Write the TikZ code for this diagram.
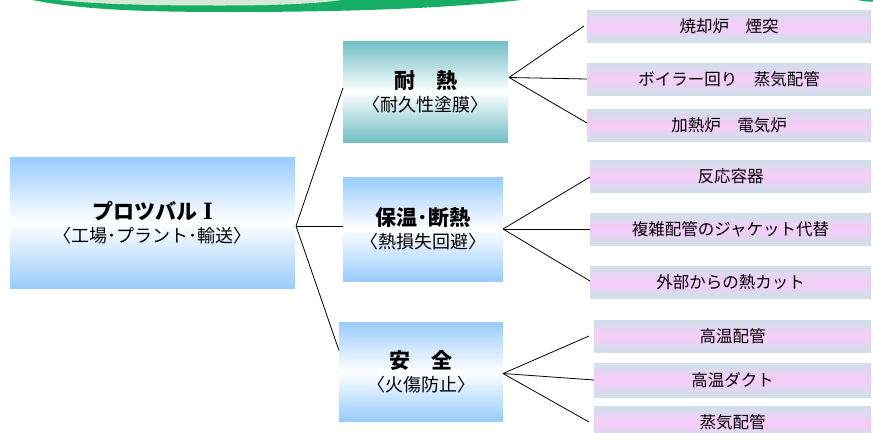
\documentclass[tikz,border=0pt]{standalone}
\usepackage{fontspec}
\setmainfont{Noto Sans CJK JP}
\newfontfamily\romanfont{Liberation Serif}
\definecolor{lblue}{RGB}{153,204,255}
\definecolor{teal1}{RGB}{112,190,196}
\definecolor{rgray}{RGB}{206,224,232}
\definecolor{rpink}{RGB}{248,204,250}
\definecolor{dgreen}{RGB}{21,174,100}
\definecolor{lgreen}{RGB}{212,232,212}
\newcommand\mytitle{\bfseries\fontsize{21}{22}\selectfont}
\newcommand\mysub{\mdseries\fontsize{18}{20}\selectfont}
\begin{document}
\begin{tikzpicture}[x=1pt,y=-1pt,
  boxbase/.style={inner sep=0pt, outer sep=0pt, anchor=north west, align=center},
  bluebox/.style={boxbase, top color=lblue, bottom color=lblue, middle color=white},
  tealbox/.style={boxbase, top color=teal1, bottom color=teal1, middle color=white},
  rbox/.style={boxbase, minimum height=32pt, top color=rgray, bottom color=rgray, middle color=rpink, font=\fontsize{16.5}{19}\selectfont},
  conn/.style={draw=black, line width=0.8pt}]
\useasboundingbox (0,0) rectangle (873,432);
% green swoosh at top
\fill[dgreen] (18,-3) .. controls (70,9) and (130,12) .. (230,12) .. controls (380,12) and (480,6) .. (545,-3) -- cycle;
\fill[lgreen] (35,-3) .. controls (80,4) and (140,5.5) .. (220,5.5) .. controls (290,5.5) and (330,3) .. (360,-3) -- cycle;
\fill[dgreen] (850,-3) .. controls (858,1) and (866,2) .. (876,1.5) -- (876,-3) -- cycle;
% main boxes
\node[bluebox, minimum width=285pt, minimum height=131pt] (m) at (10,157) {\mytitle プロツバル\hspace{6pt}{\romanfont\bfseries\fontsize{25}{22}\selectfont I}\\[5pt]\mysub 〈工場･プラント･輸送〉};
\node[tealbox, minimum width=165pt, minimum height=101pt] (b1) at (343,41) {\mytitle 耐　熱\\[5pt]\mysub 〈耐久性塗膜〉};
\node[bluebox, minimum width=160pt, minimum height=104pt] (b2) at (343,177) {\mytitle 保温･断熱\\[5pt]\mysub 〈熱損失回避〉};
\node[bluebox, minimum width=164pt, minimum height=99pt] (b3) at (339,322) {\mytitle 安　全\\[5pt]\mysub 〈火傷防止〉};
% right boxes
\node[rbox, minimum width=284pt] (r11) at (587,10) {焼却炉　煙突};
\node[rbox, minimum width=284pt] (r12) at (587,63) {ボイラー回り　蒸気配管};
\node[rbox, minimum width=284pt] (r13) at (587,109) {加熱炉　電気炉};
\node[rbox, minimum width=281pt] (r21) at (590,160) {反応容器};
\node[rbox, minimum width=281pt] (r22) at (590,213) {複雑配管のジャケット代替};
\node[rbox, minimum width=281pt] (r23) at (590,266) {外部からの熱カット};
\node[rbox, minimum width=277pt] (r31) at (594,320) {高温配管};
\node[rbox, minimum width=277pt, minimum height=34pt] (r32) at (594,363) {高温ダクト};
\node[rbox, minimum width=277pt] (r33) at (594,406) {蒸気配管};
% junctions
\coordinate (j0) at (296,226);
\coordinate (j1) at ([xshift=1pt,yshift=14pt]b1.east);
\coordinate (j2) at (b2.east);
\coordinate (j3) at ([yshift=-2pt]b3.east);
% connectors
\draw[conn] (j0) -- ([yshift=3.5pt]b1.west);
\draw[conn] (j0) -- (j0 -| b2.west);
\draw[conn] (j0) -- ([yshift=21pt]b3.west);
\draw[conn] (j1) -- ([xshift=-3pt]r11.west);
\draw[conn] (j1) -- (r12.west);
\draw[conn] (j1) -- ([yshift=2pt]r13.west);
\draw[conn] (j2) -- ([yshift=-1pt]r21.west);
\draw[conn] (j2) -- (r22.west);
\draw[conn] (j2) -- ([yshift=1pt]r23.west);
\draw[conn] (j3) -- ([xshift=-5pt]r31.west);
\draw[conn] (j3) -- (r32.west);
\draw[conn] (j3) -- ([xshift=-5pt]r33.west);
\end{tikzpicture}
\end{document}
